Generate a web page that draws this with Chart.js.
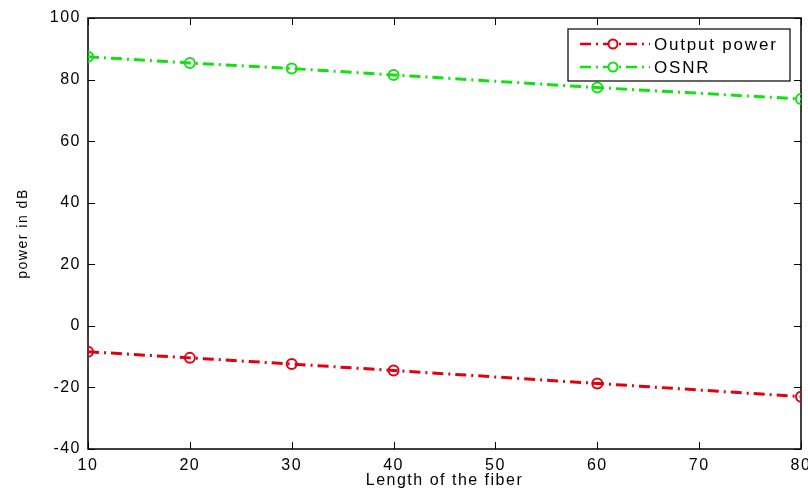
<!DOCTYPE html>
<html>
<head>
<meta charset="utf-8">
<script src="https://cdn.jsdelivr.net/npm/chart.js@4/dist/chart.umd.min.js"></script>
<style>
  html, body { margin: 0; padding: 0; background: #fff; }
  #wrap { width: 808px; height: 496px; }
</style>
</head>
<body>
<div id="wrap"><canvas id="chart"></canvas></div>
<script>
const fiberLength = [10, 20, 30, 40, 60, 80]
const outputPower = [-8.4, -10.4, -12.4, -14.5, -18.7, -23.0]
const osnr = [87.4, 85.4, 83.6, 81.5, 77.4, 73.7]
const xTicks = [10, 20, 30, 40, 50, 60, 70, 80]
const yTicks = [-40, -20, 0, 20, 40, 60, 80, 100]

const RED = "#e00010"
const GREEN = "#11e011"
const DASH = [11, 5, 2, 5]
const FONT = "'Liberation Sans', Arial, sans-serif"

function toPoints(ys){
    return fiberLength.map((x, i) => ({x: x, y: ys[i]}))
}

// wider text like the matlab export
const spacingPlugin = {
    id: "spacing",
    beforeDraw(chart){
        chart.ctx.letterSpacing = "1.5px"
    }
}

// MATLAB style box with inward ticks on all four sides
const boxPlugin = {
    id: "box",
    beforeDatasetsDraw(chart){
        const {ctx, chartArea: a, scales} = chart
        ctx.save()
        ctx.strokeStyle = "#000"
        ctx.lineWidth = 1.5
        ctx.strokeRect(a.left, a.top, a.right - a.left, a.bottom - a.top)
        ctx.lineWidth = 1
        ctx.beginPath()
        for(const v of xTicks){
            const px = Math.round(scales.x.getPixelForValue(v)) + 0.5
            ctx.moveTo(px, a.bottom); ctx.lineTo(px, a.bottom - 7)
            ctx.moveTo(px, a.top); ctx.lineTo(px, a.top + 7)
        }
        for(const v of yTicks){
            const py = Math.round(scales.y.getPixelForValue(v)) + 0.5
            ctx.moveTo(a.left, py); ctx.lineTo(a.left + 7, py)
            ctx.moveTo(a.right, py); ctx.lineTo(a.right - 7, py)
        }
        ctx.stroke()
        ctx.restore()
    }
}

// legend drawn like matlab: line, marker, then the dotted part
const legendPlugin = {
    id: "matlabLegend",
    afterDatasetsDraw(chart){
        const {ctx, chartArea: a} = chart
        const x0 = a.right - 233, y0 = a.top + 11, w = 222, h = 52
        ctx.save()
        ctx.fillStyle = "#fff"
        ctx.fillRect(x0, y0, w, h)
        ctx.strokeStyle = "#000"
        ctx.lineWidth = 1.2
        ctx.strokeRect(x0, y0, w, h)
        chart.data.datasets.forEach((ds, i) => {
            const cy = y0 + 15 + i * 23
            ctx.strokeStyle = ds.borderColor
            ctx.lineWidth = 2.5
            ctx.setLineDash(DASH)
            ctx.beginPath()
            ctx.moveTo(x0 + 12, cy); ctx.lineTo(x0 + 82, cy)
            ctx.stroke()
            ctx.setLineDash([])
            ctx.fillStyle = "#fff"
            ctx.lineWidth = 2
            ctx.beginPath()
            ctx.arc(x0 + 45, cy, 4.5, 0, Math.PI * 2)
            ctx.fill(); ctx.stroke()
            ctx.fillStyle = "#000"
            ctx.font = "17px " + FONT
            ctx.letterSpacing = "1.8px"
            ctx.textBaseline = "middle"
            ctx.fillText(ds.label, x0 + 86, cy + 1)
        })
        ctx.restore()
    }
}

new Chart(document.querySelector("#chart"), {
    type: "line",
    data: {
        datasets: [
            {label: "Output power", data: toPoints(outputPower), borderColor: RED},
            {label: "OSNR", data: toPoints(osnr), borderColor: GREEN}
        ].map(d => Object.assign(d, {
            borderWidth: 3,
            borderDash: DASH,
            pointRadius: 5,
            pointBorderWidth: 2,
            pointBackgroundColor: "rgba(255,255,255,0)",
            pointBorderColor: d.borderColor,
            tension: 0
        }))
    },
    options: {
        responsive: true,
        maintainAspectRatio: false,
        animation: false,
        layout: {padding: {left: 0, right: 3, top: 18, bottom: 0}},
        plugins: {legend: {display: false}, tooltip: {enabled: false}},
        scales: {
            x: {
                type: "linear",
                min: 10, max: 80,
                afterBuildTicks(s){ s.ticks = xTicks.map(v => ({value: v})) },
                afterFit(s){ s.height = 47; s.paddingLeft = 0; s.paddingRight = 0 },
                grid: {display: false, drawTicks: false},
                border: {display: false},
                ticks: {color: "#000", padding: 7, font: {family: FONT, size: 16}, maxRotation: 0},
                title: {display: true, text: "Length of the fiber", color: "#000",
                    font: {family: FONT, size: 16}, padding: {top: 0, bottom: 6}}
            },
            y: {
                min: -40, max: 100,
                afterBuildTicks(s){ s.ticks = yTicks.map(v => ({value: v})) },
                afterFit(s){ s.width = 88; s.paddingTop = 0; s.paddingBottom = 0 },
                grid: {display: false, drawTicks: false},
                border: {display: false},
                ticks: {color: "#000", padding: 7, font: {family: FONT, size: 16}},
                title: {display: true, text: "power in dB", color: "#000",
                    font: {family: FONT, size: 14}, padding: {top: 15, bottom: 0}}
            }
        }
    },
    plugins: [spacingPlugin, boxPlugin, legendPlugin]
})
</script>
</body>
</html>
